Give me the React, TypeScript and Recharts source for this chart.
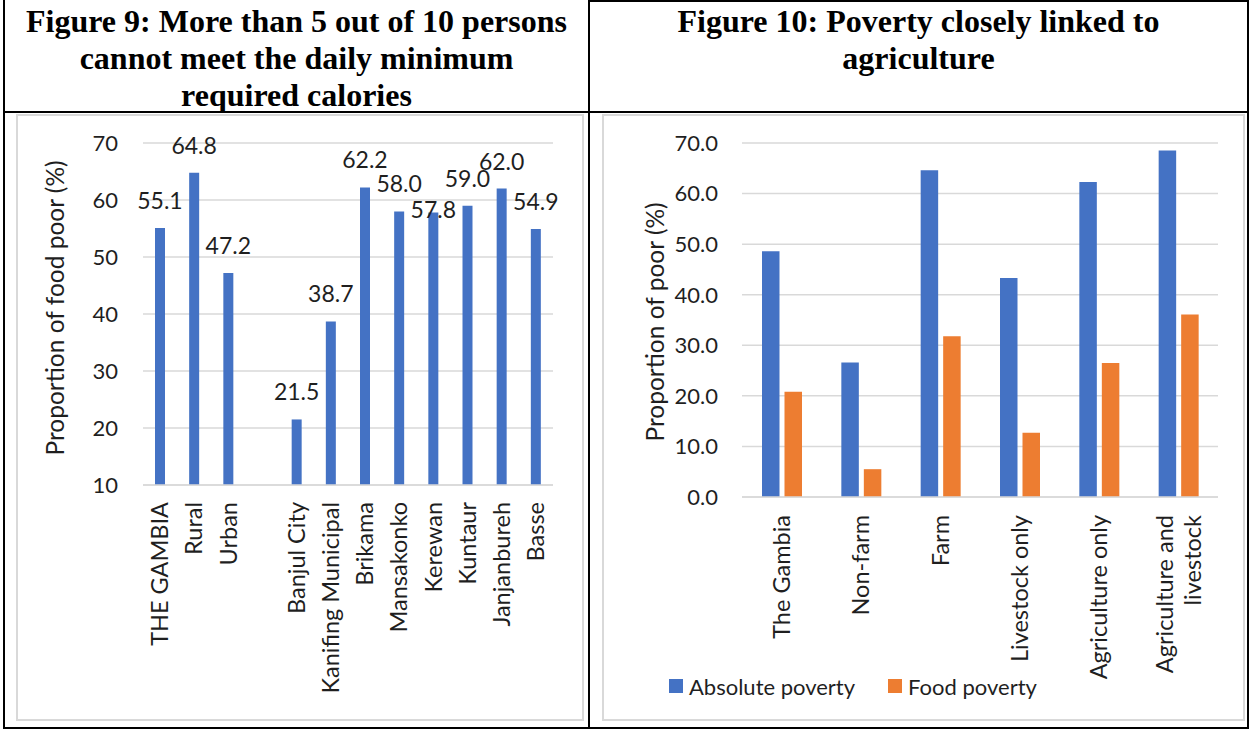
import React from 'react';
import { BarChart, Bar, XAxis, YAxis, CartesianGrid, LabelList, Legend, Label } from 'recharts';

// ---------- Figure 9 data ----------
const fig9Categories = ['THE GAMBIA', 'Rural', 'Urban', '', 'Banjul City', 'Kanifing Municipal', 'Brikama', 'Mansakonko', 'Kerewan', 'Kuntaur', 'Janjanbureh', 'Basse'];
const fig9Values: (number | null)[] = [55.1, 64.8, 47.2, null, 21.5, 38.7, 62.2, 58.0, 57.8, 59.0, 62.0, 54.9];
const fig9Ticks = [10, 20, 30, 40, 50, 60, 70];

// ---------- Figure 10 data ----------
const fig10Categories = ['The Gambia', 'Non-farm', 'Farm', 'Livestock only', 'Agriculture only', 'Agriculture and livestock'];
const fig10Absolute = [48.6, 26.6, 64.6, 43.3, 62.3, 68.5];
const fig10Food = [20.8, 5.5, 31.8, 12.7, 26.5, 36.1];
const fig10Ticks = [0, 10, 20, 30, 40, 50, 60, 70];
const fig10SeriesNames = ['Absolute poverty', 'Food poverty'];

// label collision nudge (style only)
const FIG9_LABEL_NUDGE: Record<string, number> = { Kerewan: 24 };

const BLUE = '#4472C4';
const ORANGE = '#ED7D31';
const GRID = '#d9d9d9';
const TEXT = '#1f1f1f';
const FONT = 'Lato, "Open Sans", sans-serif';
const FS = 22;
const FS_TICK_X = 23.5;
const FS_TITLE = 24.5;
const FS_LABEL = 23;

const fig9Data = fig9Categories.map((name, i) => ({ name, value: fig9Values[i] }));
const fig10Data = fig10Categories.map((name, i) => ({ name, absolute: fig10Absolute[i], food: fig10Food[i] }));

function wrapWords(s: string, max: number): string[] {
  if (!s) return [];
  const words = s.split(' ');
  const lines: string[] = [];
  let cur = '';
  for (const w of words) {
    const t = cur ? cur + ' ' + w : w;
    if (t.length > max && cur) {
      lines.push(cur);
      cur = w;
    } else cur = t;
  }
  if (cur) lines.push(cur);
  return lines;
}

const makeRotatedTick = (gap: number, maxChars: number) => (props: any) => {
  const { x, y, payload } = props;
  const lines = wrapWords(String(payload.value ?? ''), maxChars);
  const lh = 28;
  const n = lines.length;
  return (
    <g transform={`translate(${x},${y + gap})`}>
      {lines.map((ln, i) => (
        <text
          key={i}
          transform="rotate(-90)"
          x={0}
          y={(i - (n - 1) / 2) * lh}
          dy="0.35em"
          textAnchor="end"
          fontFamily={FONT}
          fontSize={FS_TICK_X}
          fill={TEXT}
        >
          {ln}
        </text>
      ))}
    </g>
  );
};

const axisTitle = (text: string, dx: number, dy: number) => (props: any) => {
  const vb = props.viewBox || { x: 0, y: 0, width: 0, height: 0 };
  const cx = vb.x + dx;
  const cy = vb.y + vb.height / 2 + dy;
  return (
    <text
      transform={`translate(${cx},${cy}) rotate(-90)`}
      textAnchor="middle"
      dy="0.35em"
      fontFamily={FONT}
      fontSize={FS_TITLE}
      fill={TEXT}
    >
      {text}
    </text>
  );
};

const Fig9Label = (props: any) => {
  const { x, y, width, value } = props;
  if (value == null || value === '') return null;
  const num = Number(value);
  const idx = fig9Values.findIndex((v) => v != null && Math.abs(v - num) < 1e-9);
  const nudge = idx >= 0 ? FIG9_LABEL_NUDGE[fig9Categories[idx]] ?? 0 : 0;
  return (
    <text
      x={Number(x) + Number(width) / 2}
      y={Number(y) - 19 + nudge}
      textAnchor="middle"
      fontFamily={FONT}
      fontSize={FS_LABEL}
      fill={TEXT}
    >
      {num.toFixed(1)}
    </text>
  );
};

const LegendContent = (props: any) => {
  const payload = props.payload || [];
  return (
    <div style={{ display: 'flex', alignItems: 'center', height: 30, fontFamily: FONT, fontSize: FS, color: TEXT, whiteSpace: 'nowrap' }}>
      {payload.map((e: any, i: number) => (
        <div key={i} style={{ display: 'flex', alignItems: 'center', marginRight: i === 0 ? 33 : 0 }}>
          <span style={{ display: 'inline-block', width: 14, height: 14, background: e.color, marginRight: 6 }} />
          <span>{e.value}</span>
        </div>
      ))}
    </div>
  );
};

const abs = (l: number, t: number, w: number, h: number, extra: React.CSSProperties = {}): React.CSSProperties => ({
  position: 'absolute', left: l, top: t, width: w, height: h, ...extra,
});

const titleStyle: React.CSSProperties = {
  fontFamily: '"Liberation Serif", "Times New Roman", serif',
  fontWeight: 'bold',
  fontSize: 32,
  lineHeight: '37px',
  textAlign: 'center',
  color: '#000',
  whiteSpace: 'nowrap',
};

export default function App() {
  return (
    <div style={abs(0, 0, 1250, 731, { background: '#fff', overflow: 'hidden' })}>
      {/* table borders */}
      <div style={abs(3, 0, 2, 729, { background: '#000' })} />
      <div style={abs(1247, 0, 2, 729, { background: '#000' })} />
      <div style={abs(3, 727, 1246, 2, { background: '#000' })} />
      <div style={abs(588, 0, 2, 729, { background: '#000' })} />
      <div style={abs(3, 111, 1246, 2, { background: '#000' })} />
      <div style={abs(588, 0, 661, 2, { background: '#000' })} />

      {/* titles */}
      <div style={abs(5, 3, 583, 108, titleStyle)}>
        Figure 9: More than 5 out of 10 persons<br />cannot meet the daily minimum<br />required calories
      </div>
      <div style={abs(590, 3, 657, 108, titleStyle)}>
        Figure 10: Poverty closely linked to<br />agriculture
      </div>

      {/* chart frames */}
      <div style={abs(16, 114, 568, 607, { border: `2px solid ${GRID}`, boxSizing: 'border-box' })} />
      <div style={abs(602, 114, 643, 607, { border: `2px solid ${GRID}`, boxSizing: 'border-box' })} />

      {/* Figure 9 chart */}
      <div style={abs(16, 114, 568, 607)}>
        <BarChart width={568} height={607} data={fig9Data} margin={{ top: 29, right: 31, bottom: 0, left: 0 }}>
          <CartesianGrid vertical={false} stroke={GRID} strokeWidth={1.5} />
          <XAxis
            dataKey="name"
            interval={0}
            height={236}
            tickLine={false}
            tickSize={0}
            tickMargin={0}
            axisLine={{ stroke: GRID, strokeWidth: 1.5 }}
            tick={makeRotatedTick(17, 100)}
          />
          <YAxis
            width={127}
            domain={[10, 70]}
            ticks={fig9Ticks}
            axisLine={false}
            tickLine={false}
            tickMargin={19}
            tick={{ fontSize: FS, fontFamily: FONT, fill: TEXT }}
          >
            <Label content={axisTitle('Proportion of food poor (%)', 39, -6)} />
          </YAxis>
          <Bar dataKey="value" fill={BLUE} barSize={10} isAnimationActive={false}>
            <LabelList dataKey="value" content={Fig9Label} />
          </Bar>
        </BarChart>
      </div>

      {/* Figure 10 chart */}
      <div style={abs(602, 114, 643, 607)}>
        <BarChart width={643} height={607} data={fig10Data} margin={{ top: 29, right: 27, bottom: 0, left: 0 }} barGap={5}>
          <CartesianGrid vertical={false} stroke={GRID} strokeWidth={1.5} />
          <XAxis
            dataKey="name"
            interval={0}
            height={224}
            tickLine={false}
            tickSize={0}
            tickMargin={0}
            axisLine={{ stroke: GRID, strokeWidth: 1.5 }}
            tick={makeRotatedTick(18, 16)}
          />
          <YAxis
            width={140}
            domain={[0, 70]}
            ticks={fig10Ticks}
            axisLine={false}
            tickLine={false}
            tickMargin={18}
            tickFormatter={(v: number) => v.toFixed(1)}
            tick={{ fontSize: FS, fontFamily: FONT, fill: TEXT }}
          >
            <Label content={axisTitle('Proportion of poor (%)', 53, 2)} />
          </YAxis>
          <Legend
            layout="horizontal"
            align="center"
            verticalAlign="middle"
            wrapperStyle={{ top: 557, left: 67, width: 'auto', height: 30 }}
            content={LegendContent}
          />
          <Bar dataKey="absolute" name={fig10SeriesNames[0]} fill={BLUE} barSize={17.5} isAnimationActive={false} />
          <Bar dataKey="food" name={fig10SeriesNames[1]} fill={ORANGE} barSize={17.5} isAnimationActive={false} />
        </BarChart>
      </div>
    </div>
  );
}
